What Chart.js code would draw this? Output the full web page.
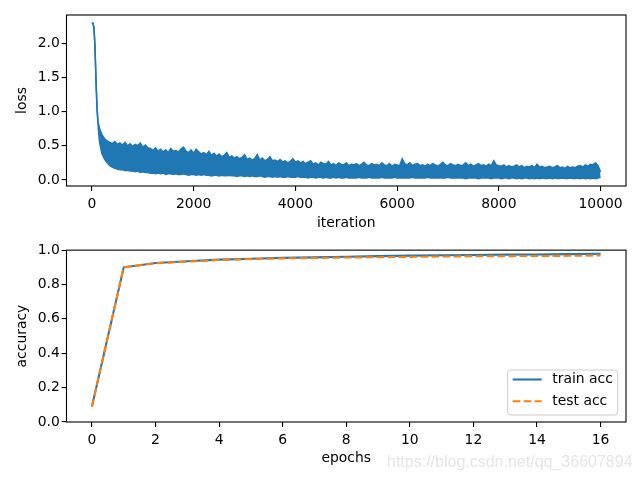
<!DOCTYPE html>
<html lang="en">
<head>
    <meta charset="UTF-8">
    <title>loss / accuracy</title>
    <style>
        body { margin: 0; background: #fff; }
        .panel { position: absolute; left: 0; width: 640px; height: 240px; }
        #mark {
            position: absolute; left: 387px; top: 454px;
            font: 16px "Liberation Sans", Arial, sans-serif; line-height: 16px;
            color: #e6e6e6; white-space: nowrap;
        }
    </style>
    <script src="https://cdn.jsdelivr.net/npm/chart.js"></script>
</head>
<body>
<div class="panel" style="top:0"><canvas id="lossChart" width="640" height="240"></canvas></div>
<div class="panel" style="top:240px"><canvas id="accChart" width="640" height="240"></canvas></div>
<div id="mark">https://blog.csdn.net/qq_36607894</div>
<script>
// ---- loss per iteration: upper / lower edge of the noisy band ----
var lossIters = [0, 20, 40, 60, 80, 100, 120, 150];
for (let it = 200; it <= 10000; it += 50) lossIters.push(it);

var lossUpper = [2.30, 2.29, 2.22, 1.95, 1.45, 1.05, 0.85, 0.75,
    0.66,0.60,0.57,0.55,0.53,0.56,0.52,0.54,0.51,0.55,0.50,0.53,0.49,0.52,0.50,0.54,0.48,0.51,0.47,0.46,
    0.43,0.47,0.42,0.45,0.41,0.44,0.40,0.46,0.42,0.43,0.41,0.45,0.48,0.42,0.40,0.44,0.39,0.45,0.41,0.38,
    0.40,0.37,0.42,0.36,0.39,0.35,0.38,0.34,0.36,0.40,0.33,0.35,0.32,0.34,0.31,0.33,0.37,0.30,0.32,0.29,
    0.31,0.37,0.29,0.32,0.28,0.30,0.34,0.28,0.29,0.27,0.30,0.26,0.28,0.25,0.27,0.31,0.26,0.28,0.25,0.27,
    0.24,0.26,0.28,0.23,0.25,0.22,0.26,0.24,0.23,0.27,0.22,0.24,0.21,0.25,0.23,0.22,0.25,0.21,0.23,0.22,
    0.24,0.21,0.23,0.26,0.22,0.21,0.24,0.22,0.23,0.21,0.25,0.22,0.21,0.24,0.20,0.23,0.22,0.21,0.31,0.24,
    0.22,0.25,0.21,0.23,0.24,0.21,0.22,0.20,0.23,0.21,0.24,0.22,0.20,0.23,0.26,0.22,0.21,0.24,0.22,0.21,
    0.23,0.21,0.22,0.25,0.21,0.23,0.20,0.22,0.24,0.21,0.22,0.20,0.23,0.21,0.28,0.22,0.21,0.20,0.22,0.19,
    0.21,0.19,0.20,0.22,0.19,0.21,0.18,0.20,0.19,0.21,0.18,0.23,0.19,0.20,0.18,0.19,0.20,0.18,0.19,0.21,
    0.18,0.19,0.17,0.20,0.18,0.19,0.18,0.20,0.21,0.19,0.22,0.20,0.23,0.22,0.25,0.21,0.12];

var lossLower = [2.30, 2.29, 2.22, 1.95, 1.45, 1.05, 0.80, 0.55,
    0.38,0.30,0.25,0.21,0.19,0.17,0.16,0.15,0.15,0.14,0.14,0.13,0.13,0.12,0.13,0.11,0.12,0.11,0.11,0.10,
    0.10,0.09,0.10,0.09,0.10,0.08,0.09,0.09,0.08,0.09,0.08,0.08,0.09,0.08,0.07,0.08,0.08,0.07,0.08,0.07,
    0.08,0.07,0.07,0.06,0.07,0.07,0.06,0.07,0.06,0.06,0.07,0.06,0.06,0.05,0.06,0.06,0.05,0.06,0.05,0.06,
    0.05,0.05,0.06,0.05,0.04,0.05,0.05,0.04,0.05,0.04,0.05,0.04,0.04,0.05,0.04,0.04,0.04,0.05,0.04,0.04,
    0.04,0.03,0.04,0.04,0.03,0.04,0.04,0.03,0.04,0.03,0.03,0.04,0.03,0.04,0.03,0.03,0.04,0.03,0.03,0.03,
    0.03,0.04,0.03,0.03,0.03,0.04,0.03,0.03,0.03,0.03,0.04,0.03,0.03,0.03,0.03,0.04,0.03,0.03,0.03,0.03,
    0.03,0.03,0.04,0.03,0.03,0.03,0.03,0.03,0.04,0.03,0.03,0.03,0.03,0.03,0.03,0.03,0.04,0.03,0.03,0.03,
    0.03,0.03,0.03,0.02,0.03,0.03,0.03,0.03,0.02,0.03,0.03,0.03,0.03,0.02,0.03,0.03,0.03,0.02,0.03,0.03,
    0.02,0.03,0.03,0.02,0.03,0.02,0.03,0.03,0.02,0.03,0.02,0.03,0.02,0.03,0.02,0.02,0.03,0.02,0.03,0.02,
    0.02,0.03,0.02,0.02,0.03,0.02,0.02,0.03,0.02,0.03,0.02,0.03,0.02,0.03,0.02,0.03,0.04];

var iterTicks = [0, 2000, 4000, 6000, 8000, 10000];
var lossTicks = [0.0, 0.5, 1.0, 1.5, 2.0];

// ---- accuracy per epoch ----
var epochs   = [0, 1, 2, 3, 4, 5, 6, 7, 8, 9, 10, 11, 12, 13, 14, 15, 16];
var trainAcc = [0.09, 0.90, 0.925, 0.935, 0.945, 0.950, 0.955, 0.958, 0.962, 0.965, 0.968, 0.970, 0.972, 0.974, 0.975, 0.977, 0.979];
var testAcc  = [0.09, 0.90, 0.924, 0.933, 0.943, 0.948, 0.952, 0.954, 0.957, 0.959, 0.961, 0.963, 0.964, 0.965, 0.966, 0.967, 0.969];
var epochTicks = [0, 2, 4, 6, 8, 10, 12, 14, 16];
var accTicks = [0.0, 0.2, 0.4, 0.6, 0.8, 1.0];

const BLUE = '#1f77b4', ORANGE = '#ff7f0e';

Chart.defaults.font.family = '"DejaVu Sans", sans-serif';
Chart.defaults.font.size = 13.9;
Chart.defaults.color = '#000';
Chart.defaults.animation = false;

// black box round the plot area, like matplotlib spines
const frame = {
    id: 'frame',
    afterDraw(chart) {
        const a = chart.chartArea, ctx = chart.ctx;
        ctx.save();
        ctx.strokeStyle = '#000';
        ctx.lineWidth = 1.1;
        ctx.strokeRect(a.left, a.top, a.right - a.left, a.bottom - a.top);
        ctx.restore();
    }
};

// legend drawn inside the plot, lower right
const innerLegend = {
    id: 'innerLegend',
    afterDatasetsDraw(chart) {
        const a = chart.chartArea, ctx = chart.ctx;
        const w = 110, h = 45;
        const x = a.right - 8.3 - w, y = a.bottom - 7 - h;
        ctx.save();
        ctx.beginPath();
        ctx.roundRect(x, y, w, h, 3);
        ctx.fillStyle = 'rgba(255,255,255,0.8)';
        ctx.fill();
        ctx.strokeStyle = '#cccccc';
        ctx.lineWidth = 1;
        ctx.stroke();
        ctx.font = '13.9px "DejaVu Sans"';
        ctx.textBaseline = 'middle';
        chart.data.datasets.forEach((ds, i) => {
            const ly = y + 9.5 + i * 21.7;
            ctx.beginPath();
            ctx.setLineDash(ds.borderDash || []);
            ctx.strokeStyle = ds.borderColor;
            ctx.lineWidth = ds.borderWidth;
            ctx.moveTo(x + 5, ly);
            ctx.lineTo(x + 34, ly);
            ctx.stroke();
            ctx.setLineDash([]);
            ctx.fillStyle = '#000';
            ctx.fillText(ds.label, x + 44.6, ly);
        });
        ctx.restore();
    }
};

function axisX(min, max, ticks, title, height, titlePad) {
    return {
        type: 'linear', min: min, max: max,
        afterBuildTicks: s => { s.ticks = ticks.map(v => ({ value: v })); },
        afterFit: s => { s.height = height; },
        border: { display: false },
        grid: { drawOnChartArea: false, tickLength: 4.9, color: '#000', lineWidth: 1.1 },
        ticks: { padding: 5, maxRotation: 0, autoSkip: false, callback: v => String(v) },
        title: { display: true, text: title, padding: { top: 0, bottom: titlePad } }
    };
}
function axisY(min, max, ticks, title) {
    return {
        min: min, max: max,
        afterBuildTicks: s => { s.ticks = ticks.map(v => ({ value: v })); },
        afterFit: s => { s.width = 66.5; },
        border: { display: false },
        grid: { drawOnChartArea: false, tickLength: 4.9, color: '#000', lineWidth: 1.1 },
        ticks: { padding: 1.8, autoSkip: false, callback: v => v.toFixed(1) },
        title: { display: true, text: title, padding: { top: 14, bottom: 0 } }
    };
}

new Chart(document.getElementById('lossChart'), {
    type: 'line',
    data: {
        datasets: [
            { label: 'loss', data: lossIters.map((it, i) => ({ x: it, y: lossUpper[i] })),
              borderColor: BLUE, backgroundColor: BLUE, borderWidth: 1.5, pointRadius: 0, fill: '+1' },
            { label: 'loss_low', data: lossIters.map((it, i) => ({ x: it, y: lossLower[i] })),
              borderColor: BLUE, borderWidth: 1.5, pointRadius: 0, fill: false }
        ]
    },
    options: {
        responsive: false,
        layout: { padding: { top: 15, right: 14, left: 0, bottom: 0 } },
        plugins: { legend: { display: false }, tooltip: { enabled: false } },
        scales: {
            x: axisX(-500, 10500, iterTicks, 'iteration', 54, 8.5),
            y: axisY(-0.088, 2.41, lossTicks, 'loss')
        }
    },
    plugins: [frame]
});

new Chart(document.getElementById('accChart'), {
    type: 'line',
    data: {
        datasets: [
            { label: 'train acc', data: epochs.map((e, i) => ({ x: e, y: trainAcc[i] })),
              borderColor: BLUE, borderWidth: 2.08, pointRadius: 0, fill: false, order: 1 },
            { label: 'test acc', data: epochs.map((e, i) => ({ x: e, y: testAcc[i] })),
              borderColor: ORANGE, borderWidth: 2.08, borderDash: [7.7, 3.3], pointRadius: 0, fill: false, order: 0 }
        ]
    },
    options: {
        responsive: false,
        layout: { padding: { top: 10, right: 14, left: 0, bottom: 0 } },
        plugins: { legend: { display: false }, tooltip: { enabled: false } },
        scales: {
            x: axisX(-0.8, 16.8, epochTicks, 'epochs', 58, 13.5),
            y: axisY(0, 1, accTicks, 'accuracy')
        }
    },
    plugins: [frame, innerLegend]
});
</script>
</body>
</html>
